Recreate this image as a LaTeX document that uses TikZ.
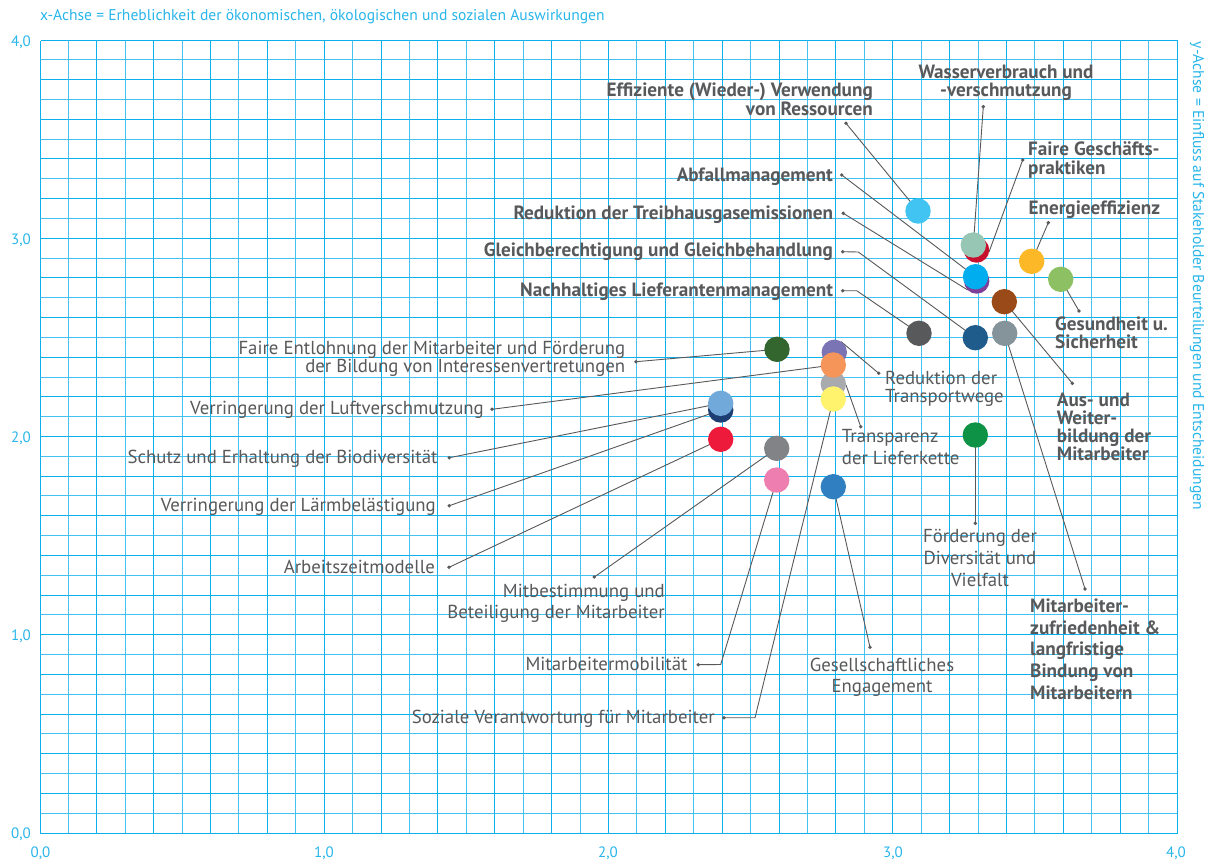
\documentclass[tikz,border=0pt]{standalone}
\usepackage{fontspec}
\setmainfont{PT Sans}
\definecolor{gridA}{HTML}{0AB0EE}
\definecolor{gridB}{HTML}{45C2F2}
\definecolor{axis}{HTML}{29B6EA}
\definecolor{txt}{HTML}{58595B}
\definecolor{cSky}{HTML}{41C4F1}
\definecolor{cRed}{HTML}{C8102E}
\definecolor{cSage}{HTML}{97C6B5}
\definecolor{cPurp}{HTML}{7E3F98}
\definecolor{cBlue}{HTML}{00AEEF}
\definecolor{cYO}{HTML}{FDB827}
\definecolor{cLG}{HTML}{8DC063}
\definecolor{cBrown}{HTML}{9A4A18}
\definecolor{cDGrey}{HTML}{58595B}
\definecolor{cDBlue}{HTML}{1F5B8B}
\definecolor{cGBlue}{HTML}{85939B}
\definecolor{cDGreen}{HTML}{33662F}
\definecolor{cPBlue}{HTML}{7A74B5}
\definecolor{cLGrey}{HTML}{A8AAAD}
\definecolor{cOrange}{HTML}{F6955A}
\definecolor{cYellow}{HTML}{FFF26D}
\definecolor{cNavy}{HTML}{1D3E72}
\definecolor{cLB}{HTML}{70A9DA}
\definecolor{cRed2}{HTML}{ED1A3B}
\definecolor{cGrey2}{HTML}{818386}
\definecolor{cPink}{HTML}{EF7EB0}
\definecolor{cBlue2}{HTML}{2F7FC1}
\definecolor{cGreen3}{HTML}{0E9245}
\pgfdeclarelayer{gridlayer}
\pgfdeclarelayer{linelayer}
\pgfsetlayers{gridlayer,linelayer,main}
\tikzset{
  bub/.style={circle, fill=#1, minimum size=25.4pt, inner sep=0pt, outer sep=0pt},
  dot/.style={circle, fill=txt, minimum size=3.8pt, inner sep=0pt, outer sep=0pt},
  conn/.style={draw=txt, line width=0.9pt},
  gline/.style={draw=#1, line width=1.3pt},
  lab/.style={text=txt, inner sep=0pt, font=\fontsize{18.8}{#1}\selectfont},
  lab/.default=18.6,
  blab/.style={text=txt, inner sep=0pt, font=\bfseries\fontsize{19.2}{#1}\selectfont},
  blab/.default=18.6,
  axl/.style={text=axis, inner sep=0pt, font=\fontsize{15.6}{17}\selectfont},
  tick/.style={text=axis, inner sep=0pt, font=\fontsize{15}{16}\selectfont},
}
\begin{document}
\begin{tikzpicture}[x=1pt,y=-1pt]
\useasboundingbox (0,0) rectangle (1212,865);
% grid (lines snapped to pixel centres)
\begin{pgfonlayer}{gridlayer}
\fill[white] (0,0) rectangle (1212,865);
\foreach \i in {1,3,...,39} {
  \pgfmathsetmacro\gx{floor(40+28.425*\i)+0.5}
  \pgfmathsetmacro\gy{floor(833-19.825*\i)+0.5}
  \draw[gline=gridB] (\gx,40.5) -- (\gx,833.5);
  \draw[gline=gridB] (40.5,\gy) -- (1177.5,\gy);
}
\foreach \i in {0,2,...,40} {
  \pgfmathsetmacro\gx{floor(40+28.425*\i)+0.5}
  \pgfmathsetmacro\gy{floor(833-19.825*\i)+0.5}
  \draw[gline=gridA] (\gx,40.5) -- (\gx,833.5);
  \draw[gline=gridA] (40.5,\gy) -- (1177.5,\gy);
}
\end{pgfonlayer}
% axis texts
\node[axl, anchor=base west] (xlab) at (40,20) {x-Achse = Erheblichkeit der ökonomischen, ökologischen und sozialen Auswirkungen};
\node[axl, rotate=-90, anchor=center] (ylab) at (1197,276) {y-Achse = Einfluss auf Stakeholder Beurteilungen und Entscheidungen};
\node[tick, anchor=base east] (y4) at (31,46) {4,0};
\node[tick, anchor=base east] (y3) at (31,244) {3,0};
\node[tick, anchor=base east] (y2) at (31,442) {2,0};
\node[tick, anchor=base east] (y1) at (31,640) {1,0};
\node[tick, anchor=base east] (y0) at (31,838.5) {0,0};
\node[tick, anchor=base] (x0) at (40.5,857) {0,0};
\node[tick, anchor=base] (x1) at (324,857) {1,0};
\node[tick, anchor=base] (x2) at (608,857) {2,0};
\node[tick, anchor=base] (x3) at (893,857) {3,0};
\node[tick, anchor=base] (x4) at (1176,857) {4,0};

% bubbles
\node[bub=cSky] (c1) at (918,211) {};
\node[bub=cRed] (c2r) at (976.5,250) {};
\node[bub=cSage] (c2) at (973.3,245) {};
\node[bub=cPurp] (c3p) at (976.7,281) {};
\node[bub=cBlue] (c3) at (975.5,276.7) {};
\node[bub=cYO] (c4) at (1031.7,261.3) {};
\node[bub=cLG] (c5) at (1060.7,279.3) {};
\node[bub=cBrown] (c6) at (1004.3,301.7) {};
\node[bub=cDGrey] (c7) at (919,333.3) {};
\node[bub=cDBlue] (c8) at (975.3,337.7) {};
\node[bub=cGBlue] (c9) at (1004.7,333.3) {};
\node[bub=cDGreen] (c10) at (777,349.3) {};
\node[bub=cPBlue] (c11) at (834.3,352.3) {};
\node[bub=cLGrey] (c13) at (833.3,384) {};
\node[bub=cOrange] (c12) at (833.3,365) {};
\node[bub=cYellow] (c14) at (833.3,399) {};
\node[bub=cNavy] (c15n) at (720.7,410) {};
\node[bub=cLB] (c15) at (720.7,403.3) {};
\node[bub=cRed2] (c16) at (720.7,439.3) {};
\node[bub=cGrey2] (c17) at (776.7,448.3) {};
\node[bub=cPink] (c18) at (776.7,480) {};
\node[bub=cBlue2] (c19) at (833.3,486.7) {};
\node[bub=cGreen3] (c20) at (975.3,435) {};

% labels (bold); multi-line nodes are anchored at the baseline of their last line
\node[blab, align=right, anchor=base east] (l1) at (873,115.3) {Effiziente (Wieder-) Verwendung\\von Ressourcen};
\node[blab=18, align=center, anchor=base] (l2) at (1006,96.7) {Wasserverbrauch und\\-verschmutzung};
\node[blab, anchor=base east] (l3) at (833,181) {Abfallmanagement};
\node[blab, anchor=base east] (l4) at (833.3,219.3) {Reduktion der Treibhausgasemissionen};
\node[blab, anchor=base east] (l5) at (833,256.7) {Gleichberechtigung und Gleichbehandlung};
\node[blab, anchor=base east] (l6) at (833.3,296) {Nachhaltiges Lieferantenmanagement};
\node[blab=19, align=left, anchor=base west] (l7) at (1028,174) {Faire Geschäfts-\\praktiken};
\node[blab, anchor=base west] (l8) at (1028.3,214.3) {Energieeffizienz};
\node[blab=18.4, align=left, anchor=base west] (l9) at (1055,348.7) {Gesundheit u.\\Sicherheit};
\node[blab=18.3, align=left, anchor=base west] (l10) at (1056.7,460.9) {Aus- und\\Weiter-\\bildung der\\Mitarbeiter};
\node[blab=21.6, align=left, anchor=base west] (l11) at (1030,699.1) {Mitarbeiter-\\zufriedenheit \&\\langfristige\\Bindung von\\Mitarbeitern};
% labels (regular)
\node[lab, align=right, anchor=base east] (l12) at (625.4,372.9) {Faire Entlohnung der Mitarbeiter und Förderung\\der Bildung von Interessenvertretungen};
\node[lab, anchor=base east] (l13) at (484,414) {Verringerung der Luftverschmutzung};
\node[lab, anchor=base east] (l14) at (437.7,463.7) {Schutz und Erhaltung der Biodiversität};
\node[lab, anchor=base east] (l15) at (436,511.7) {Verringerung der Lärmbelästigung};
\node[lab, anchor=base east] (l16) at (435,573.3) {Arbeitszeitmodelle};
\node[lab=21.3, align=right, anchor=base east] (l17) at (665,618.3) {Mitbestimmung und\\Beteiligung der Mitarbeiter};
\node[lab, anchor=base east] (l18) at (687.7,670) {Mitarbeitermobilität};
\node[lab, anchor=base east] (l19) at (715,723.7) {Soziale Verantwortung für Mitarbeiter};
\node[lab=21.7, align=center, anchor=base] (l20) at (882,692.7) {Gesellschaftliches\\Engagement};
\node[lab=22, align=center, anchor=base] (l21) at (980,586) {Förderung der\\Diversität und\\Vielfalt};
\node[lab=21.6, align=left, anchor=base west] (l22) at (841.7,464.3) {Transparenz\\der Lieferkette};
\node[lab=18.4, align=left, anchor=base west] (l23) at (885,402.7) {Reduktion der\\Transportwege};

% dots
\node[dot] (d1) at (846,123.3) {};
\node[dot] (d2) at (983.3,106.7) {};
\node[dot] (d3) at (841.7,175) {};
\node[dot] (d4) at (843.3,213.3) {};
\node[dot] (d5) at (842.7,251.7) {};
\node[dot] (d6) at (842.7,290.7) {};
\node[dot] (d7) at (1022.7,160) {};
\node[dot] (d8) at (1048.3,222.7) {};
\node[dot] (d9) at (1079,311) {};
\node[dot] (d10) at (1072.3,383.3) {};
\node[dot] (d11) at (1085,589) {};
\node[dot] (d12) at (636,361.7) {};
\node[dot] (d13) at (492,409.3) {};
\node[dot] (d14) at (449.3,457.7) {};
\node[dot] (d15) at (449.3,505.7) {};
\node[dot] (d16) at (449,567.3) {};
\node[dot] (d17) at (594.3,577) {};
\node[dot] (d18) at (698.3,664.7) {};
\node[dot] (d19) at (724,717.7) {};
\node[dot] (d20) at (870,647.3) {};
\node[dot] (d21) at (975.3,523.3) {};
\node[dot] (d22) at (860.7,426.7) {};
\node[dot] (d23) at (878.7,373.3) {};
\coordinate (e5) at (858.3,252);
\coordinate (e6) at (856.7,290.7);
\coordinate (e18) at (720.7,664.5);
\coordinate (e19) at (755,717.7);

% connectors
\begin{pgfonlayer}{linelayer}
\draw[conn] (d1.center) -- (c1.center);
\draw[conn] (d2.center) -- (c2.center);
\draw[conn] (d3.center) -- (c3.center);
\draw[conn] (d4.center) -- (c3p.225);
\draw[conn] (d5.center) -- (e5) -- (c8.center);
\draw[conn] (d6.center) -- (e6) -- (c7.center);
\draw[conn] (d7.center) -- (c2r.-8);
\draw[conn] (d8.center) -- (c4.center);
\draw[conn] (d9.center) -- (c5.center);
\draw[conn] (d10.center) -- (c6.center);
\draw[conn] (d11.center) -- (c9.center);
\draw[conn] (d12.center) -- (c10.center);
\draw[conn] (d13.center) -- (c12.center);
\draw[conn] (d14.center) -- (c15.center);
\draw[conn] (d15.center) -- (c15n.center);
\draw[conn] (d16.center) -- (c16.center);
\draw[conn] (d17.center) -- (c17.center);
\draw[conn] (d18.center) -- (e18) -- (c18.center);
\draw[conn] (d19.center) -- (e19) -- (c14.center);
\draw[conn] (d20.center) -- (c19.center);
\draw[conn] (d21.center) -- (c20.center);
\draw[conn] (d22.center) -- (c13.-4);
\draw[conn] (d23.center) -- (c11.58);
\end{pgfonlayer}
\end{tikzpicture}
\end{document}
